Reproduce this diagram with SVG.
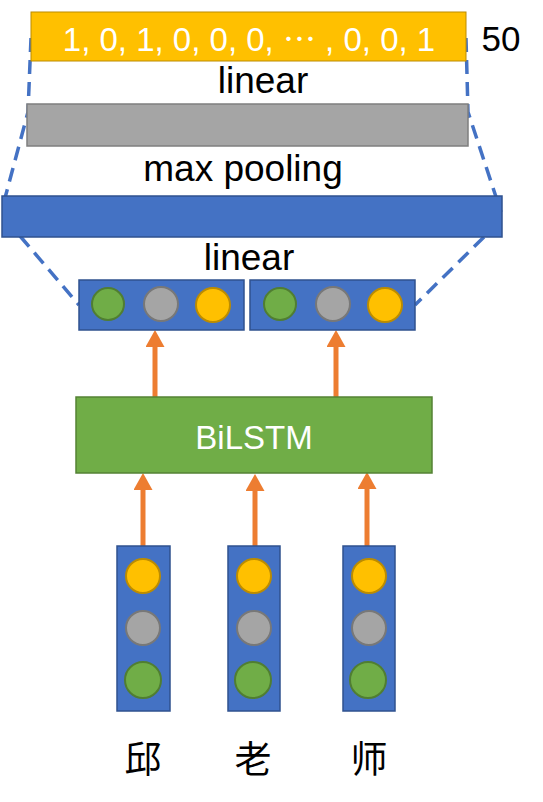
<svg xmlns="http://www.w3.org/2000/svg" width="543" height="802" viewBox="0 0 543 802">
<style>
.t{font-family:"Liberation Sans","Noto Sans CJK SC",sans-serif;text-anchor:middle;fill:#000}
.w{fill:#fff}
.blue{fill:#4472C4;stroke:#2F528F;stroke-width:1.5}
.g{fill:#70AD47;stroke:#507E32;stroke-width:2}
.s{fill:#A5A5A5;stroke:#787878;stroke-width:2}
.y{fill:#FFC000;stroke:#BC8C00;stroke-width:2}
.dash{fill:none;stroke:#4472C4;stroke-width:3.5;stroke-dasharray:14 8}
.arr{stroke:#ED7D31;stroke-width:5;fill:none;marker-end:url(#ah)}
</style>
<defs>
<marker id="ah" markerUnits="userSpaceOnUse" markerWidth="17" markerHeight="19" refX="0" refY="9.5" orient="auto" viewBox="0 0 17 19">
<path d="M0,0 L17,9.5 L0,19 Z" fill="#ED7D31"/>
</marker>
</defs>
<g id="connectors">
<polyline class="dash" points="31,38 28,112 5,198"/>
<polyline class="dash" points="466,38 468,112 501,212"/>
<line class="dash" x1="20" y1="236" x2="79" y2="305"/>
<line class="dash" x1="484" y1="237" x2="415" y2="305"/>
<line class="arr" x1="155" y1="398" x2="155" y2="347"/>
<line class="arr" x1="336" y1="398" x2="336" y2="347"/>
<line class="arr" x1="143" y1="547" x2="143" y2="490"/>
<line class="arr" x1="255" y1="549" x2="255" y2="491"/>
<line class="arr" x1="367" y1="546" x2="367" y2="489"/>
</g>
<g id="output">
<rect x="31" y="12" width="435" height="49" fill="#FFC000" stroke="#BC8C00" stroke-width="1"/>
<text class="t w" x="249" y="51" font-size="33">1, 0, 1, 0, 0, 0, ⋯ , 0, 0, 1</text>
<text class="t" x="501" y="51" font-size="35">50</text>
</g>
<text class="t" x="263" y="93" font-size="37">linear</text>
<g id="pooled">
<rect x="27" y="104" width="441" height="42" fill="#A5A5A5" stroke="#7F7F7F" stroke-width="1.5"/>
</g>
<text class="t" x="243" y="181" font-size="37">max pooling</text>
<g id="hidden">
<rect class="blue" x="2" y="196" width="500" height="41"/>
</g>
<text class="t" x="249" y="270" font-size="37">linear</text>
<g id="out-left">
<rect class="blue" x="79" y="280" width="165" height="50"/>
<circle class="g" cx="108" cy="304" r="16"/>
<circle class="s" cx="161" cy="304" r="17"/>
<circle class="y" cx="213" cy="305" r="17"/>
</g>
<g id="out-right">
<rect class="blue" x="250" y="280" width="165" height="50"/>
<circle class="g" cx="280" cy="304" r="16"/>
<circle class="s" cx="333" cy="304" r="17"/>
<circle class="y" cx="385" cy="305" r="17"/>
</g>
<g id="bilstm">
<rect x="76" y="397" width="356" height="76" fill="#70AD47" stroke="#548235" stroke-width="1.5"/>
<text class="t w" x="254" y="449" font-size="33">BiLSTM</text>
</g>
<g id="col1">
<rect class="blue" x="117" y="546" width="53" height="165"/>
<circle class="y" cx="143" cy="576" r="17"/>
<circle class="s" cx="143" cy="628" r="17"/>
<circle class="g" cx="143" cy="680" r="18"/>
<text class="t" x="143" y="773" font-size="37">邱</text>
</g>
<g id="col2">
<rect class="blue" x="228" y="546" width="52" height="165"/>
<circle class="y" cx="254" cy="576" r="17"/>
<circle class="s" cx="254" cy="628" r="17"/>
<circle class="g" cx="253" cy="680" r="18"/>
<text class="t" x="253" y="773" font-size="37">老</text>
</g>
<g id="col3">
<rect class="blue" x="343" y="546" width="52" height="165"/>
<circle class="y" cx="369" cy="576" r="17"/>
<circle class="s" cx="369" cy="628" r="17"/>
<circle class="g" cx="368" cy="680" r="18"/>
<text class="t" x="369" y="773" font-size="37">师</text>
</g>
</svg>
